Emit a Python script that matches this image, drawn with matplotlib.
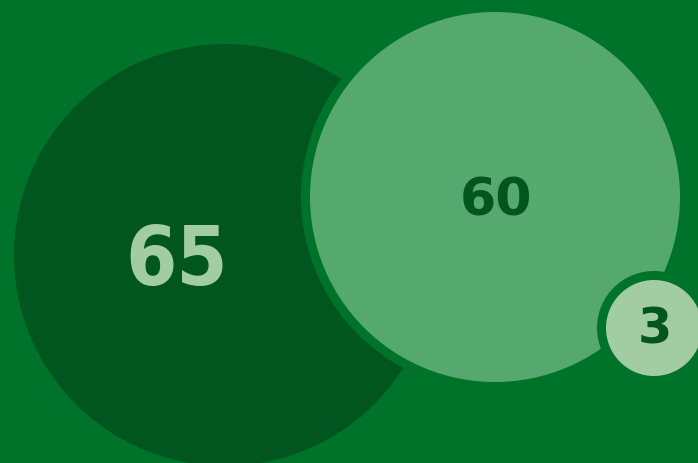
import matplotlib
matplotlib.use("Agg")
import matplotlib.pyplot as plt
from matplotlib.patches import Circle

# data
labels = ["65", "60", "3"]
values = [65, 60, 3]

# layout (pixels)
centers = [(225, 255), (495, 197), (654, 328)]
radii = [211, 185, 48]
text_pos = [(177, 285.5), (496, 215.5), (655, 343.5)]  # baseline positions
fills = ["#00561e", "#55a96f", "#a2cca3"]
text_colors = ["#a2cca3", "#00561e", "#00561e"]
font_sizes = [59, 37.5, 35.5]
stretches = ["condensed", "normal", "normal"]
borders = [0, 9, 9]
bg = "#00732a"

W, H = 698, 463
fig = plt.figure(figsize=(W / 100, H / 100), dpi=100)
fig.patch.set_facecolor(bg)
ax = fig.add_axes([0, 0, 1, 1])
ax.set_xlim(0, W)
ax.set_ylim(H, 0)
ax.set_facecolor(bg)
ax.axis("off")

for i, v in enumerate(values):
    cx, cy = centers[i]
    if borders[i]:
        ax.add_patch(Circle((cx, cy), radii[i] + borders[i], facecolor=bg, edgecolor="none", zorder=2 * i + 1))
    ax.add_patch(Circle((cx, cy), radii[i], facecolor=fills[i], edgecolor="none", zorder=2 * i + 2))
    tx, ty = text_pos[i]
    ax.text(tx, ty, labels[i], color=text_colors[i], fontsize=font_sizes[i], fontweight="bold",
            fontstretch=stretches[i], ha="center", va="baseline", zorder=10, family="DejaVu Sans")

fig.savefig("out.png", dpi=100, facecolor=bg)
